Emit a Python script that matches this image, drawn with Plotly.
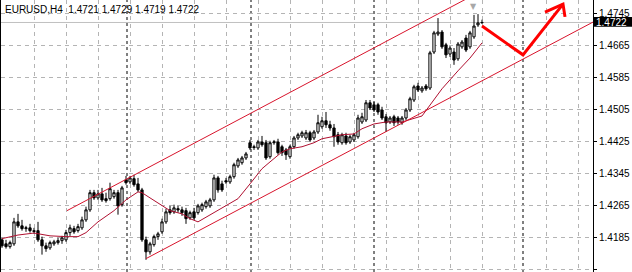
import plotly.graph_objects as go

symbol_title = "EURUSD,H4  1.4721 1.4729 1.4719 1.4722"

opens = [
    1.4178, 1.4168, 1.4161, 1.4168, 1.4223, 1.4213, 1.4206, 1.4208, 1.4201, 1.4201,
    1.4178, 1.4163, 1.4158, 1.4168, 1.4171, 1.4176, 1.4178, 1.4196, 1.4206, 1.4201,
    1.4208, 1.4228, 1.4253, 1.4296, 1.4283, 1.4293, 1.4281, 1.4281, 1.4286, 1.4296,
    1.4266, 1.4328, 1.4323, 1.4331, 1.4318, 1.4303, 1.4178, 1.4148, 1.4166, 1.4186,
    1.4198, 1.4223, 1.4253, 1.4248, 1.4256, 1.4253, 1.4251, 1.4233, 1.4248, 1.4246,
    1.4253, 1.4261, 1.4263, 1.4278, 1.4333, 1.4318, 1.4326, 1.4323, 1.4336, 1.4363,
    1.4371, 1.4383, 1.4421, 1.4411, 1.4408, 1.4423, 1.4421, 1.4386, 1.4421, 1.4423,
    1.4411, 1.4403, 1.4386, 1.4411, 1.4433, 1.4438, 1.4433, 1.4446, 1.4433, 1.4448,
    1.4461, 1.4476, 1.4466, 1.4458, 1.4441, 1.4421, 1.4438, 1.4423, 1.4428, 1.4436,
    1.4473, 1.4478, 1.4521, 1.4516, 1.4516, 1.4503, 1.4486, 1.4473, 1.4486, 1.4483,
    1.4471, 1.4483, 1.4503, 1.4528, 1.4563, 1.4551, 1.4563, 1.4558, 1.4648, 1.4693,
    1.4698, 1.4666, 1.4643, 1.4648, 1.4631, 1.4661, 1.4683, 1.4661, 1.4686, 1.4716,
    1.4721]

highs = [
    1.4183, 1.4178, 1.4176, 1.4233, 1.4243, 1.4228, 1.4213, 1.4218, 1.4208, 1.4223,
    1.4186, 1.4171, 1.4176, 1.4178, 1.4183, 1.4188, 1.4203, 1.4216, 1.4213, 1.4218,
    1.4236, 1.4261, 1.4303, 1.4303, 1.4303, 1.4308, 1.4296, 1.4321, 1.4303, 1.4303,
    1.4313, 1.4338, 1.4338, 1.4341, 1.4333, 1.4308, 1.4186, 1.4173, 1.4191, 1.4198,
    1.4231, 1.4256, 1.4263, 1.4266, 1.4263, 1.4261, 1.4258, 1.4251, 1.4258, 1.4268,
    1.4271, 1.4278, 1.4283, 1.4341, 1.4338, 1.4326, 1.4333, 1.4341, 1.4371, 1.4383,
    1.4388, 1.4398, 1.4428, 1.4416, 1.4428, 1.4438, 1.4428, 1.4426, 1.4428, 1.4431,
    1.4416, 1.4408, 1.4416, 1.4438, 1.4446, 1.4451, 1.4453, 1.4451, 1.4453, 1.4491,
    1.4486, 1.4498, 1.4476, 1.4468, 1.4448, 1.4446, 1.4446, 1.4441, 1.4446, 1.4491,
    1.4496, 1.4528, 1.4528, 1.4523, 1.4521, 1.4511, 1.4493, 1.4488, 1.4491, 1.4488,
    1.4488, 1.4508, 1.4536, 1.4566, 1.4571, 1.4563, 1.4568, 1.4651, 1.4701, 1.4733,
    1.4703, 1.4671, 1.4663, 1.4658, 1.4673, 1.4678, 1.4691, 1.4701, 1.4741, 1.4743,
    1.4729]

lows = [
    1.4158, 1.4156, 1.4156, 1.4163, 1.4208, 1.4201, 1.4198, 1.4196, 1.4193, 1.4173,
    1.4141, 1.4148, 1.4153, 1.4163, 1.4166, 1.4168, 1.4173, 1.4188, 1.4193, 1.4196,
    1.4203, 1.4223, 1.4248, 1.4278, 1.4278, 1.4273, 1.4271, 1.4276, 1.4281, 1.4241,
    1.4261, 1.4316, 1.4318, 1.4311, 1.4298, 1.4173, 1.4128, 1.4141, 1.4161, 1.4178,
    1.4193, 1.4218, 1.4241, 1.4243, 1.4246, 1.4238, 1.4218, 1.4228, 1.4228, 1.4241,
    1.4248, 1.4256, 1.4258, 1.4273, 1.4296, 1.4298, 1.4318, 1.4318, 1.4331, 1.4358,
    1.4366, 1.4378, 1.4403, 1.4403, 1.4403, 1.4411, 1.4378, 1.4381, 1.4416, 1.4391,
    1.4388, 1.4378, 1.4381, 1.4406, 1.4428, 1.4433, 1.4428, 1.4423, 1.4428, 1.4443,
    1.4456, 1.4458, 1.4451, 1.4411, 1.4416, 1.4416, 1.4416, 1.4418, 1.4423, 1.4431,
    1.4468, 1.4473, 1.4503, 1.4498, 1.4491, 1.4478, 1.4448, 1.4468, 1.4463, 1.4466,
    1.4466, 1.4478, 1.4498, 1.4523, 1.4548, 1.4546, 1.4551, 1.4553, 1.4643, 1.4688,
    1.4656, 1.4633, 1.4636, 1.4616, 1.4626, 1.4656, 1.4648, 1.4656, 1.4681, 1.4711,
    1.4719]

closes = [
    1.4163, 1.4161, 1.4171, 1.4223, 1.4213, 1.4206, 1.4208, 1.4201, 1.4199, 1.4178,
    1.4163, 1.4156, 1.4171, 1.4173, 1.4176, 1.4183, 1.4196, 1.4208, 1.4198, 1.4211,
    1.4228, 1.4253, 1.4296, 1.4283, 1.4293, 1.4278, 1.4276, 1.4306, 1.4296, 1.4263,
    1.4308, 1.4321, 1.4333, 1.4316, 1.4303, 1.4178, 1.4148, 1.4168, 1.4186, 1.4193,
    1.4223, 1.4248, 1.4246, 1.4258, 1.4253, 1.4246, 1.4231, 1.4246, 1.4233, 1.4263,
    1.4266, 1.4273, 1.4278, 1.4333, 1.4303, 1.4303, 1.4323, 1.4336, 1.4366, 1.4378,
    1.4383, 1.4393, 1.4408, 1.4409, 1.4423, 1.4416, 1.4383, 1.4421, 1.4423, 1.4396,
    1.4396, 1.4391, 1.4411, 1.4433, 1.4441, 1.4446, 1.4446, 1.4428, 1.4448, 1.4471,
    1.4476, 1.4466, 1.4458, 1.4436, 1.4423, 1.4441, 1.4421, 1.4436, 1.4441, 1.4483,
    1.4486, 1.4521, 1.4508, 1.4503, 1.4498, 1.4483, 1.4471, 1.4483, 1.4471, 1.4473,
    1.4483, 1.4503, 1.4531, 1.4561, 1.4553, 1.4558, 1.4556, 1.4646, 1.4696, 1.4698,
    1.4661, 1.4641, 1.4658, 1.4628, 1.4668, 1.4673, 1.4653, 1.4696, 1.4713, 1.4721,
    1.4722]

bars = list(range(len(closes)))

# moving average (bar index, price)
ma_bars = [0, 4, 8, 12, 16, 19, 21, 24, 28, 31, 34, 35, 37, 40, 42, 45, 47, 49, 52,
           55, 59, 62, 65, 67, 70, 72, 75, 78, 80, 85, 88, 90, 93, 96, 100, 105,
           107, 110, 114, 117, 120]
ma_values = [1.4181, 1.4190, 1.4195, 1.4188, 1.4186, 1.4186, 1.4196, 1.4223, 1.4251,
             1.4278, 1.4298, 1.4296, 1.4283, 1.4263, 1.4251, 1.4243, 1.4231, 1.4223,
             1.4241, 1.4258, 1.4281, 1.4318, 1.4356, 1.4373, 1.4398, 1.4406, 1.4411,
             1.4421, 1.4431, 1.4441, 1.4443, 1.4456, 1.4468, 1.4473, 1.4473, 1.4488,
             1.4516, 1.4556, 1.4601, 1.4633, 1.4671]

# equidistant channel (two parallel rays)
upper_channel_bars = [16.25, 140.0]
upper_channel_prices = [1.4251, 1.4908]
lower_channel_bars = [36.0, 147.75]
lower_channel_prices = [1.4131, 1.4723]

# hand-drawn arrow (bar index, price)
arrow_bars = [120.0, 130.25, 140.25]
arrow_prices = [1.4713, 1.4641, 1.4768]
arrow_head_bars = [135.75, 140.25, 140.75]
arrow_head_prices = [1.4748, 1.4768, 1.4736]

period_separators = [31.25, 62.25, 93.0, 130.25]
bid_price = 1.4722
bid_box_prices = [1.4711, 1.4736]
tick_values = [1.4105, 1.4185, 1.4265, 1.4345, 1.4425, 1.4505, 1.4585, 1.4665, 1.4745]
tick_labels = ["1.4105", "1.4185", "1.4265", "1.4345", "1.4425", "1.4505", "1.4585", "1.4665", "1.4745"]

FONT = "Liberation Sans, Arial, sans-serif"

fig = go.Figure()

fig.add_trace(go.Candlestick(
    x=bars, open=opens, high=highs, low=lows, close=closes,
    increasing=dict(line=dict(color="black", width=1), fillcolor="white"),
    decreasing=dict(line=dict(color="black", width=1), fillcolor="black"),
    whiskerwidth=0, hoverinfo="skip", showlegend=False,
))

fig.add_trace(go.Scatter(x=ma_bars, y=ma_values, mode="lines",
                         line=dict(color="#b01030", width=1), hoverinfo="skip",
                         showlegend=False))
fig.add_trace(go.Scatter(x=upper_channel_bars, y=upper_channel_prices, mode="lines",
                         line=dict(color="#d8142c", width=1), hoverinfo="skip",
                         showlegend=False))
fig.add_trace(go.Scatter(x=lower_channel_bars, y=lower_channel_prices, mode="lines",
                         line=dict(color="#d8142c", width=1), hoverinfo="skip",
                         showlegend=False))
fig.add_trace(go.Scatter(x=arrow_bars, y=arrow_prices, mode="lines",
                         line=dict(color="#ff0000", width=3), hoverinfo="skip",
                         showlegend=False))
fig.add_trace(go.Scatter(x=arrow_head_bars, y=arrow_head_prices, mode="lines",
                         line=dict(color="#ff0000", width=3), hoverinfo="skip",
                         showlegend=False))

shapes = []
for s in period_separators:
    shapes.append(dict(type="line", xref="x", yref="paper", x0=s, x1=s, y0=0, y1=1,
                       line=dict(color="black", width=1, dash="3px,3px"), layer="below"))
shapes.append(dict(type="line", xref="paper", yref="y", x0=0, x1=1, y0=bid_price, y1=bid_price,
                   line=dict(color="#c0c0c0", width=1), layer="below"))
# black price tag behind the current bid value on the price scale
shapes.append(dict(type="rect", xref="paper", yref="y", x0=1.0017, x1=1.07,
                   y0=bid_box_prices[0], y1=bid_box_prices[1],
                   fillcolor="black", line=dict(width=0), layer="above"))

annotations = [
    dict(xref="paper", yref="paper", x=0, y=1, xanchor="left", yanchor="top",
         xshift=2, yshift=-2, text=symbol_title, showarrow=False,
         font=dict(family=FONT, size=10, color="black")),
    dict(xref="paper", yref="y", x=1, y=bid_price, xanchor="left", yanchor="middle",
         xshift=2, yshift=0, text="1.4722", showarrow=False, borderpad=0,
         font=dict(family=FONT, size=10, color="white")),
    dict(xref="x", yref="paper", x=117.75, y=1, xanchor="center", yanchor="top",
         text="▼", showarrow=False, font=dict(family="DejaVu Sans", size=8, color="#a8a8a8")),
]

fig.update_layout(
    width=632, height=272, autosize=False,
    margin=dict(l=1, r=39, t=0, b=0, pad=0),
    paper_bgcolor="white", plot_bgcolor="white",
    showlegend=False, boxgap=0.2, hovermode=False,
    shapes=shapes, annotations=annotations,
    xaxis=dict(range=[-0.25, 147.75], showticklabels=False, ticks="",
               showgrid=True, gridcolor="#b4b4b4", griddash="4px,4px", gridwidth=1,
               tick0=0, dtick=8, zeroline=False, rangeslider=dict(visible=False),
               showline=False, fixedrange=True),
    yaxis=dict(range=[1.409750, 1.477825], side="right", tickvals=tick_values,
               ticktext=tick_labels, ticks="outside", ticklen=3, tickcolor="black",
               showgrid=True, gridcolor="#b4b4b4", griddash="4px,4px", gridwidth=1,
               showline=True, linecolor="black", linewidth=1, mirror=True,
               zeroline=False, tickfont=dict(family=FONT, size=10, color="black"),
               fixedrange=True),
)

fig.write_html("out.html")
